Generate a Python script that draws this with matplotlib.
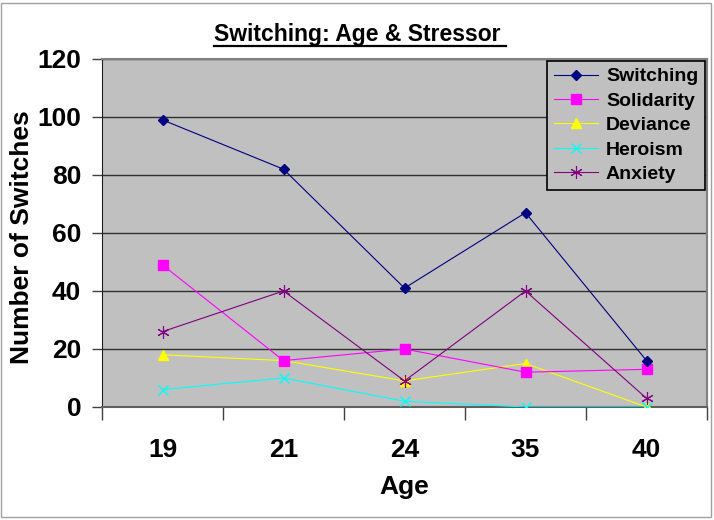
import matplotlib
matplotlib.use("Agg")
import matplotlib.pyplot as plt
from matplotlib.patches import Rectangle
from matplotlib.lines import Line2D

plt.rcParams['font.family'] = ['Liberation Sans', 'DejaVu Sans']
plt.rcParams['font.weight'] = 'bold'

# data
ages = ['19', '21', '24', '35', '40']
switching = [99, 82, 41, 67, 16]
solidarity = [49, 16, 20, 12, 13]
deviance = [18, 16, 9, 15, 0]
heroism = [6, 10, 2, 0, 0]
anxiety = [26, 40, 9, 40, 3]

fig = plt.figure(figsize=(7.14, 5.2), dpi=100)
ax = fig.add_axes([102 / 714, 113 / 520, 605 / 714, 348 / 520])
ax.set_facecolor('#C0C0C0')

x = range(len(ages))
ax.plot(x, switching, color='#000080', marker='D', ms=5.5, lw=0.8, label='Switching', zorder=5)
ax.plot(x, solidarity, color='#FF00FF', marker='s', ms=7, lw=0.8, label='Solidarity', zorder=4)
ax.plot(x, deviance, color='#FFFF00', marker='^', ms=7, lw=0.8, label='Deviance', zorder=3)
ax.plot(x, heroism, color='#00FFFF', marker='x', ms=7, mew=1, lw=0.8, label='Heroism', zorder=3)
ax.plot(x, anxiety, color='#800080', marker=(6, 2, 0), ms=9, mew=0.8, lw=0.8, label='Anxiety', zorder=4)

ax.set_xlim(-0.5, len(ages) - 0.5)
ax.set_ylim(0, 120)
ax.set_yticks(range(0, 121, 20))
ax.yaxis.grid(True, color='#303030', lw=1)
ax.set_axisbelow(True)

ax.set_xticks(list(x))
ax.set_xticklabels(ages)
ax.set_xticks([i - 0.5 for i in range(len(ages) + 1)], minor=True)
ax.tick_params(axis='x', which='major', length=0, pad=22, labelsize=19)
ax.tick_params(axis='x', which='minor', length=9, width=1, color='#404040', direction='out')
ax.tick_params(axis='y', length=7, width=1, color='#404040', pad=8, labelsize=19)
for lab in ax.get_xticklabels() + ax.get_yticklabels():
    lab.set_fontweight('bold')

for s in ['top', 'right']:
    ax.spines[s].set_color('#808080')
    ax.spines[s].set_linewidth(1.5)
ax.spines['left'].set_color('#202020')
ax.spines['bottom'].set_color('#606060')
ax.spines['bottom'].set_linewidth(1.5)

ax.set_xlabel('Age', fontsize=19, fontweight='bold', labelpad=10)
fig.text(22 / 714, 1 - 237 / 520, 'Number of Switches', rotation=90, fontsize=19,
         fontweight='bold', ha='center', va='center')

t = fig.text(357 / 714, 1 - 34 / 520, 'Switching: Age & Stressor', fontsize=16.5,
             fontweight='bold', ha='center', va='center')
fig.canvas.draw()
bb = t.get_window_extent()
fig.add_artist(Line2D([bb.x0 / 714, (bb.x1 + 6) / 714], [1 - 46 / 520, 1 - 46 / 520],
                      color='black', lw=1.6))

leg = ax.legend(loc='upper right', bbox_to_anchor=(1.0, 1.0), borderaxespad=0.1,
                prop={'weight': 'bold', 'size': 14}, fancybox=False,
                framealpha=1, facecolor='#C0C0C0', edgecolor='black',
                handlelength=2.3, labelspacing=0.35, handletextpad=0.4,
                borderpad=0.35)
leg.get_frame().set_linewidth(1.2)

fig.add_artist(Rectangle((1 / 714, 3 / 520), 710 / 714, 514 / 520, fill=False,
                         edgecolor='#A0A0A0', lw=1, transform=fig.transFigure))

fig.savefig('out.png', dpi=100)
